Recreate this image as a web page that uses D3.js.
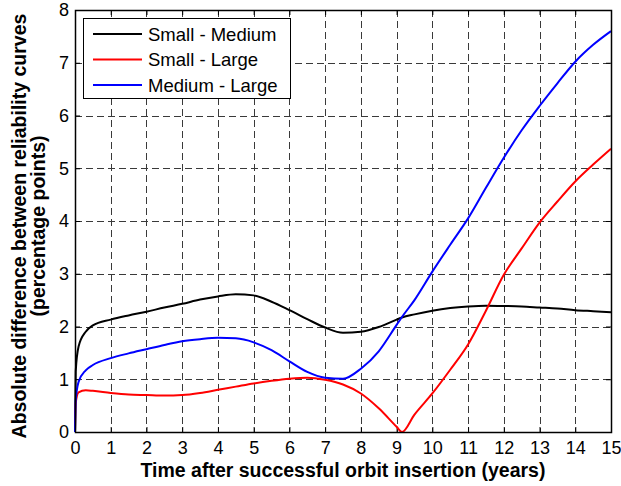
<!DOCTYPE html>
<html>
<head>
<meta charset="utf-8">
<script src="https://cdn.jsdelivr.net/npm/d3@7"></script>
<style>
  body { margin: 0; background: #fff; }
  svg { display: block; font-family: "Liberation Sans", Arial, sans-serif; }
</style>
</head>
<body>
<div id="chart-area"></div>
<script>
// values
var years = [0, 0.02, 0.1, 0.3, 0.5, 1, 1.5, 2, 2.5, 3, 3.5, 4, 4.5, 5, 5.5, 6, 6.5, 7, 7.5, 8, 8.5, 9, 9.15, 9.5, 10, 10.5, 11, 11.5, 12, 12.5, 13, 13.5, 14, 14.5, 15]
var smallMedium = [0, 1.15, 1.62, 1.9, 2.02, 2.13, 2.21, 2.28, 2.36, 2.43, 2.51, 2.57, 2.61, 2.59, 2.47, 2.31, 2.14, 1.98, 1.88, 1.9, 1.99, 2.13, 2.17, 2.23, 2.3, 2.35, 2.38, 2.395, 2.39, 2.38, 2.36, 2.34, 2.31, 2.29, 2.27]
var smallLarge = [0, 0.55, 0.75, 0.79, 0.78, 0.74, 0.71, 0.70, 0.69, 0.70, 0.74, 0.80, 0.86, 0.92, 0.97, 1.01, 1.03, 0.99, 0.9, 0.73, 0.45, 0.1, 0.0, 0.33, 0.73, 1.18, 1.66, 2.3, 2.98, 3.48, 3.97, 4.37, 4.75, 5.07, 5.37]
var mediumLarge = [0, 0.6, 0.95, 1.17, 1.27, 1.4, 1.49, 1.57, 1.65, 1.72, 1.76, 1.785, 1.775, 1.70, 1.55, 1.34, 1.14, 1.03, 1.01, 1.2, 1.53, 2.03, 2.18, 2.5, 3.04, 3.55, 4.05, 4.63, 5.2, 5.72, 6.18, 6.61, 7.02, 7.34, 7.6]

var seriesNames = ["Small - Medium", "Small - Large", "Medium - Large"]
var seriesColors = ["#000000", "#ff0000", "#0000ff"]
var seriesValues = [smallMedium, smallLarge, mediumLarge]

var xTicks = d3.range(0, 16)
var yTicks = d3.range(0, 9)

var width = 621, height = 486
var plotLeft = 75, plotRight = 611, plotTop = 10, plotBottom = 432

var svg = d3.select("#chart-area").append("svg")
    .attr("width", width)
    .attr("height", height)

var x = d3.scaleLinear().domain([0, 15]).range([plotLeft, plotRight])
var y = d3.scaleLinear().domain([0, 8]).range([plotBottom, plotTop])

// grid
var grid = svg.append("g")
    .attr("stroke", "#3a3a3a")
    .attr("stroke-width", 1)
    .attr("stroke-dasharray", "7,4")
    .attr("shape-rendering", "crispEdges")

grid.selectAll(".gx")
    .data(xTicks.filter(function(d) { return d > 0 && d < 15 }))
    .enter().append("line")
    .attr("x1", function(d) { return Math.round(x(d)) + 0.5 })
    .attr("x2", function(d) { return Math.round(x(d)) + 0.5 })
    .attr("y1", plotTop)
    .attr("y2", plotBottom)

grid.selectAll(".gy")
    .data(yTicks.filter(function(d) { return d > 0 && d < 8 }))
    .enter().append("line")
    .attr("y1", function(d) { return Math.round(y(d)) + 0.5 })
    .attr("y2", function(d) { return Math.round(y(d)) + 0.5 })
    .attr("x1", plotLeft)
    .attr("x2", plotRight)

// axes, ticks inside like matlab
svg.append("g")
    .attr("transform", "translate(0," + plotBottom + ")")
    .call(d3.axisBottom(x).tickValues(xTicks).tickSize(-5).tickSizeOuter(0).tickPadding(9))
svg.append("g")
    .attr("transform", "translate(0," + plotTop + ")")
    .call(d3.axisTop(x).tickValues(xTicks).tickSize(-5).tickSizeOuter(0).tickFormat(""))
svg.append("g")
    .attr("transform", "translate(" + plotLeft + ",0)")
    .call(d3.axisLeft(y).tickValues(yTicks).tickSize(-5).tickSizeOuter(0).tickPadding(6))
svg.append("g")
    .attr("transform", "translate(" + plotRight + ",0)")
    .call(d3.axisRight(y).tickValues(yTicks).tickSize(-5).tickSizeOuter(0).tickFormat(""))

svg.selectAll(".domain").remove()
svg.selectAll(".tick line").attr("stroke", "#000")
svg.selectAll(".tick text")
    .attr("font-family", "'Liberation Sans', Arial, sans-serif")
    .attr("font-size", 18)
    .attr("fill", "#000")

// curves
var plot = svg.append("g")
var line = d3.line()
    .x(function(d) { return x(d[0]) })
    .y(function(d) { return y(d[1]) })
    .curve(d3.curveMonotoneX)

seriesValues.forEach(function(vals, i) {
    var pts = years.map(function(t, j) { return [t, vals[j]] })
    plot.append("path")
        .attr("d", line(pts))
        .attr("fill", "none")
        .attr("stroke", seriesColors[i])
        .attr("stroke-width", 2)
})

// frame
svg.append("rect")
    .attr("x", plotLeft + 0.5)
    .attr("y", plotTop + 0.5)
    .attr("width", plotRight - plotLeft)
    .attr("height", plotBottom - plotTop)
    .attr("fill", "none")
    .attr("stroke", "#000")
    .attr("stroke-width", 1.5)

// legend
var legend = svg.append("g")
legend.append("rect")
    .attr("x", 83.5)
    .attr("y", 18.5)
    .attr("width", 207)
    .attr("height", 80)
    .attr("fill", "#fff")
    .attr("stroke", "#000")

seriesNames.forEach(function(name, i) {
    var cy = 34 + i * 25.5
    legend.append("line")
        .attr("x1", 93).attr("x2", 142)
        .attr("y1", cy).attr("y2", cy)
        .attr("stroke", seriesColors[i])
        .attr("stroke-width", 2)
    legend.append("text")
        .attr("x", 148)
        .attr("y", cy)
        .attr("dy", "0.36em")
        .attr("font-size", 18.5)
        .text(name)
})

// axis titles
svg.append("text")
    .attr("x", 343)
    .attr("y", 476.5)
    .attr("text-anchor", "middle")
    .attr("font-weight", "bold")
    .attr("font-size", 19.5)
    .text("Time after successful orbit insertion (years)")

var yt = svg.append("text")
    .attr("transform", "translate(26," + 226 + ") rotate(-90)")
    .attr("text-anchor", "middle")
    .attr("font-weight", "bold")
    .attr("font-size", 19.5)
yt.append("tspan").attr("x", 0).attr("y", 0).text("Absolute difference between reliability curves")
yt.append("tspan").attr("x", 0).attr("y", 19).text("(percentage points)")
</script>
</body>
</html>
